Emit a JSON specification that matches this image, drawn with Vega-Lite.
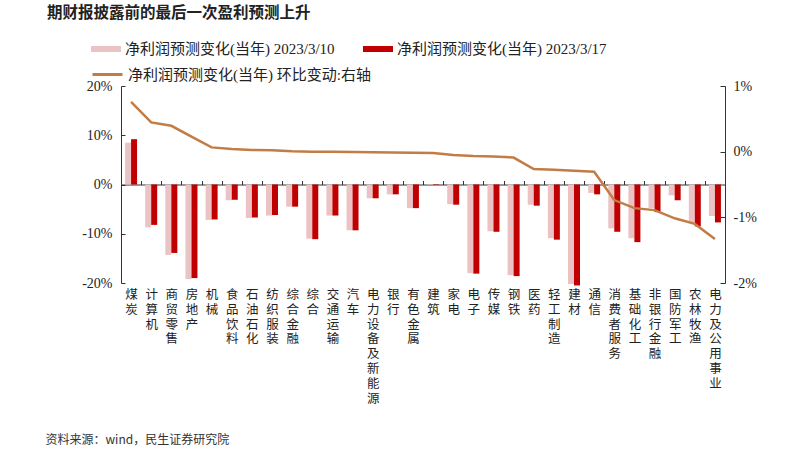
{
  "$schema": "https://vega.github.io/schema/vega-lite/v6.json",
  "width": 604,
  "height": 197,
  "autosize": {"type": "none"},
  "padding": {"left": 121, "top": 86, "right": 68, "bottom": 171},
  "background": "white",
  "title": {"text": "期财报披露前的最后一次盈利预测上升", "anchor": "start", "frame": "group", "dx": -74, "offset": 13, "fontSize": 15.5, "fontWeight": "bold", "font": "Noto Sans CJK SC", "color": "#222"},
  "config": {
    "view": {"stroke": null},
    "axis": {"labelFont": "Liberation Serif, Noto Sans CJK SC", "labelColor": "#222", "domainColor": "#333", "tickColor": "#333", "grid": false}
  },
  "data": {"values": [
    {"industry": "煤炭", "p0310": 8.5, "p0317": 9.2, "chg": 0.76},
    {"industry": "计算机", "p0310": -8.7, "p0317": -8.2, "chg": 0.446},
    {"industry": "商贸零售", "p0310": -14.3, "p0317": -13.9, "chg": 0.394},
    {"industry": "房地产", "p0310": -19.2, "p0317": -19.0, "chg": 0.23},
    {"industry": "机械", "p0310": -7.2, "p0317": -7.1, "chg": 0.065},
    {"industry": "食品饮料", "p0310": -3.2, "p0317": -3.1, "chg": 0.04},
    {"industry": "石油石化", "p0310": -6.8, "p0317": -6.7, "chg": 0.025},
    {"industry": "纺织服装", "p0310": -6.3, "p0317": -6.2, "chg": 0.02},
    {"industry": "综合金融", "p0310": -4.5, "p0317": -4.5, "chg": 0.005},
    {"industry": "综合", "p0310": -11.0, "p0317": -11.1, "chg": 0.0},
    {"industry": "交通运输", "p0310": -6.3, "p0317": -6.3, "chg": -0.003},
    {"industry": "汽车", "p0310": -9.3, "p0317": -9.3, "chg": -0.006},
    {"industry": "电力设备及新能源", "p0310": -2.8, "p0317": -2.8, "chg": -0.009},
    {"industry": "银行", "p0310": -2.0, "p0317": -2.0, "chg": -0.013},
    {"industry": "有色金属", "p0310": -4.8, "p0317": -4.8, "chg": -0.017},
    {"industry": "建筑", "p0310": -0.1, "p0317": -0.1, "chg": -0.02},
    {"industry": "家电", "p0310": -4.0, "p0317": -4.1, "chg": -0.05},
    {"industry": "电子", "p0310": -18.0, "p0317": -18.1, "chg": -0.067},
    {"industry": "传媒", "p0310": -9.5, "p0317": -9.6, "chg": -0.072},
    {"industry": "钢铁", "p0310": -18.4, "p0317": -18.6, "chg": -0.09},
    {"industry": "医药", "p0310": -4.1, "p0317": -4.3, "chg": -0.265},
    {"industry": "轻工制造", "p0310": -10.9, "p0317": -11.2, "chg": -0.275},
    {"industry": "建材", "p0310": -20.2, "p0317": -20.5, "chg": -0.29},
    {"industry": "通信", "p0310": -1.7, "p0317": -2.0, "chg": -0.305},
    {"industry": "消费者服务", "p0310": -8.9, "p0317": -9.6, "chg": -0.737},
    {"industry": "基础化工", "p0310": -10.9, "p0317": -11.7, "chg": -0.86},
    {"industry": "非银行金融", "p0310": -4.8, "p0317": -5.6, "chg": -0.89},
    {"industry": "国防军工", "p0310": -2.2, "p0317": -3.2, "chg": -1.015},
    {"industry": "农林牧渔", "p0310": -7.7, "p0317": -8.5, "chg": -1.1},
    {"industry": "电力及公用事业", "p0310": -6.4, "p0317": -7.7, "chg": -1.33}
  ]},
  "layer": [
    {
      "transform": [{"fold": ["p0310", "p0317"], "as": ["series", "value"]}],
      "mark": {"type": "bar"},
      "encoding": {
        "x": {
          "field": "industry", "type": "nominal", "sort": null,
          "scale": {"paddingInner": 0, "paddingOuter": 0},
          "axis": {
            "title": "资料来源：wind，民生证券研究院",
            "titleFont": "Noto Sans CJK SC", "titleFontSize": 12, "titleFontWeight": "normal", "titleColor": "#333",
            "titleAlign": "left", "titleAnchor": "start", "titleX": -76, "titleY": 255, "titleBaseline": "middle",
            "offset": -98.5, "tickBand": "extent", "tickSize": -4,
            "labelAngle": 0, "labelExpr": "split(datum.label, '')", "labelLineHeight": 14.8, "labelFontSize": 12.5,
            "labelBaseline": "top", "labelAlign": "center", "labelPadding": 108
          }
        },
        "xOffset": {"field": "series", "scale": {"paddingInner": 0, "paddingOuter": 0.677}},
        "y": {
          "field": "value", "type": "quantitative",
          "scale": {"domain": [-20, 20]},
          "axis": {"title": null, "values": [-20, -10, 0, 10, 20], "labelExpr": "datum.value + '%'", "labelFontSize": 14, "tickSize": -4, "labelPadding": 13}
        },
        "fill": {
          "field": "series", "type": "nominal",
          "scale": {"domain": ["p0310", "p0317"], "range": ["#EBC3C5", "#C00000"]},
          "legend": {
            "title": null, "orient": "none", "legendX": -30, "legendY": -52, "direction": "horizontal",
            "symbolType": "M-1,-0.2L1,-0.2L1,0.2L-1,0.2Z", "symbolSize": 900, "symbolStrokeWidth": 0,
            "labelFont": "Liberation Serif, Noto Sans CJK SC", "labelFontSize": 15, "labelColor": "#222", "labelLimit": 0,
            "columnPadding": 28, "labelOffset": 4,
            "labelExpr": "datum.label == 'p0310' ? '净利润预测变化(当年) 2023/3/10' : '净利润预测变化(当年) 2023/3/17'"
          }
        }
      }
    },
    {
      "mark": {"type": "line", "strokeWidth": 2.5},
      "encoding": {
        "x": {"field": "industry", "type": "nominal", "sort": null},
        "y": {
          "field": "chg", "type": "quantitative",
          "scale": {"domain": [-2, 1]},
          "axis": {"orient": "right", "title": null, "values": [-2, -1, 0, 1], "labelExpr": "datum.value + '%'", "labelFontSize": 14, "tickSize": -5, "labelPadding": 13}
        },
        "stroke": {
          "datum": "净利润预测变化(当年) 环比变动:右轴",
          "scale": {"range": ["#C27C45"]},
          "legend": {
            "title": null, "orient": "none", "legendX": -30, "legendY": -28,
            "symbolType": "stroke", "symbolSize": 900, "symbolStrokeWidth": 3,
            "labelFont": "Liberation Serif, Noto Sans CJK SC", "labelFontSize": 15, "labelColor": "#222", "labelOffset": 4, "labelLimit": 0
          }
        }
      }
    }
  ],
  "resolve": {"scale": {"y": "independent"}}
}
